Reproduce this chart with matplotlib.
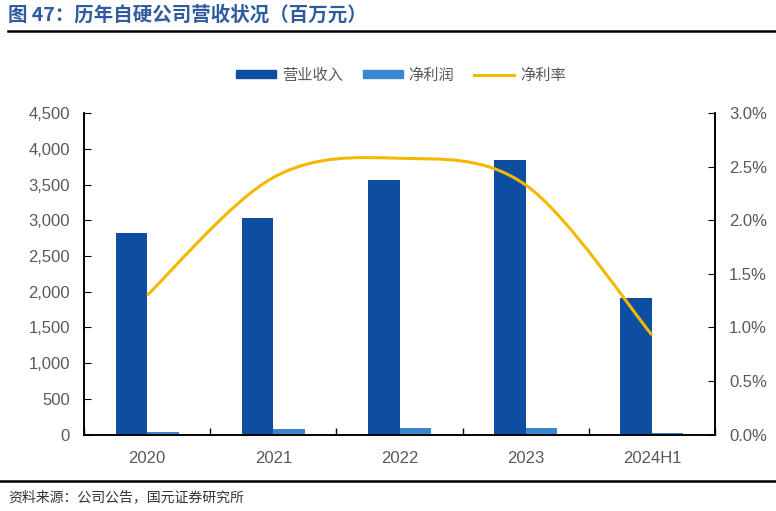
import matplotlib
matplotlib.use('Agg')
import matplotlib.pyplot as plt
import numpy as np
from matplotlib.path import Path
from matplotlib.patches import PathPatch
from matplotlib.lines import Line2D
from matplotlib.ticker import FuncFormatter, MultipleLocator

plt.rcParams['font.family'] = ['Liberation Sans', 'Noto Sans CJK SC', 'DejaVu Sans']

years = ['2020', '2021', '2022', '2023', '2024H1']
revenue = [2830, 3035, 3570, 3840, 1910]      # 营业收入, 百万元
net_profit = [35, 75, 98, 88, 18]             # 净利润, 百万元
net_margin = [1.30, 2.40, 2.58, 2.33, 0.93]   # 净利率, %

c_rev = '#0D4EA0'
c_np = '#3A87D0'
c_line = '#F5B800'
c_txt = '#595959'
cjk = ['Noto Sans CJK SC', 'DejaVu Sans']

fig = plt.figure(figsize=(7.76, 5.11), dpi=100)
ax = fig.add_axes([84/776, 1-434.5/511, (715-84)/776, (434.5-113.3)/511])
ax2 = ax.twinx()

x = np.arange(len(years))
w = 0.25
ax.bar(x - w/2, revenue, w, color=c_rev, zorder=2)
ax.bar(x + w/2, net_profit, w, color=c_np, zorder=2)

# smooth line (bezier through points, like Excel smoothing)
pts = np.column_stack([x, net_margin]).astype(float)
ext = np.vstack([pts[0], pts, pts[-1]])
verts = [tuple(pts[0])]
codes = [Path.MOVETO]
for i in range(len(pts) - 1):
    p0, p1, p2, p3 = ext[i], ext[i+1], ext[i+2], ext[i+3]
    verts += [tuple(p1 + (p2 - p0)/6), tuple(p2 - (p3 - p1)/6), tuple(p2)]
    codes += [Path.CURVE4] * 3
ax2.add_patch(PathPatch(Path(verts, codes), fill=False, edgecolor=c_line, lw=2.2, zorder=3))

ax.set_xlim(-0.5, len(years) - 0.5)
ax.set_ylim(0, 4500)
ax2.set_ylim(0, 3.0)
ax.yaxis.set_major_locator(MultipleLocator(500))
ax2.yaxis.set_major_locator(MultipleLocator(0.5))
ax.yaxis.set_major_formatter(FuncFormatter(lambda v, p: f'{v:,.0f}'))
ax2.yaxis.set_major_formatter(FuncFormatter(lambda v, p: f'{v:.1f}%'))

ax.set_xticks(x)
ax.set_xticklabels(years)
ax.set_xticks(np.arange(len(years) + 1) - 0.5, minor=True)
ax.tick_params(axis='x', which='major', length=0, pad=12, labelsize=12, labelcolor=c_txt)
ax.tick_params(axis='x', which='minor', length=5, direction='in', width=1)
ax.tick_params(axis='y', length=5, direction='in', labelsize=12, labelcolor=c_txt, pad=10)
ax2.tick_params(axis='y', length=5, direction='in', labelsize=12, labelcolor=c_txt, pad=10)

for a in (ax, ax2):
    a.spines['top'].set_visible(False)
    for s in ('left', 'right', 'bottom'):
        a.spines[s].set_linewidth(1.2)

handles = [plt.Rectangle((0, 0), 1, 1, color=c_rev),
           plt.Rectangle((0, 0), 1, 1, color=c_np),
           Line2D([], [], color=c_line, lw=2.2)]
leg = fig.legend(handles, ['营业收入', '净利润', '净利率'], loc='center', ncol=3,
                 bbox_to_anchor=(401/776, 1-75/511), frameon=False,
                 prop={'family': cjk, 'size': 11}, handlelength=2.6, handleheight=0.5,
                 columnspacing=1.3, handletextpad=0.4)
for t in leg.get_texts():
    t.set_color(c_txt)

fig.text(8/776, 1-15/511, '图 47：历年自硬公司营收状况（百万元）', fontsize=14, fontweight='bold',
         color='#2E5C9E', family=cjk, va='center', ha='left')
fig.add_artist(Line2D([8/776, 1], [1-31/511, 1-31/511], color='black', lw=1.8))
fig.add_artist(Line2D([0, 1], [1-481/511, 1-481/511], color='black', lw=1.8))
fig.text(8/776, 1-497/511, '资料来源：公司公告，国元证券研究所', fontsize=10,
         color='#333333', family=cjk, va='center', ha='left')

fig.savefig('out.png', dpi=100)
